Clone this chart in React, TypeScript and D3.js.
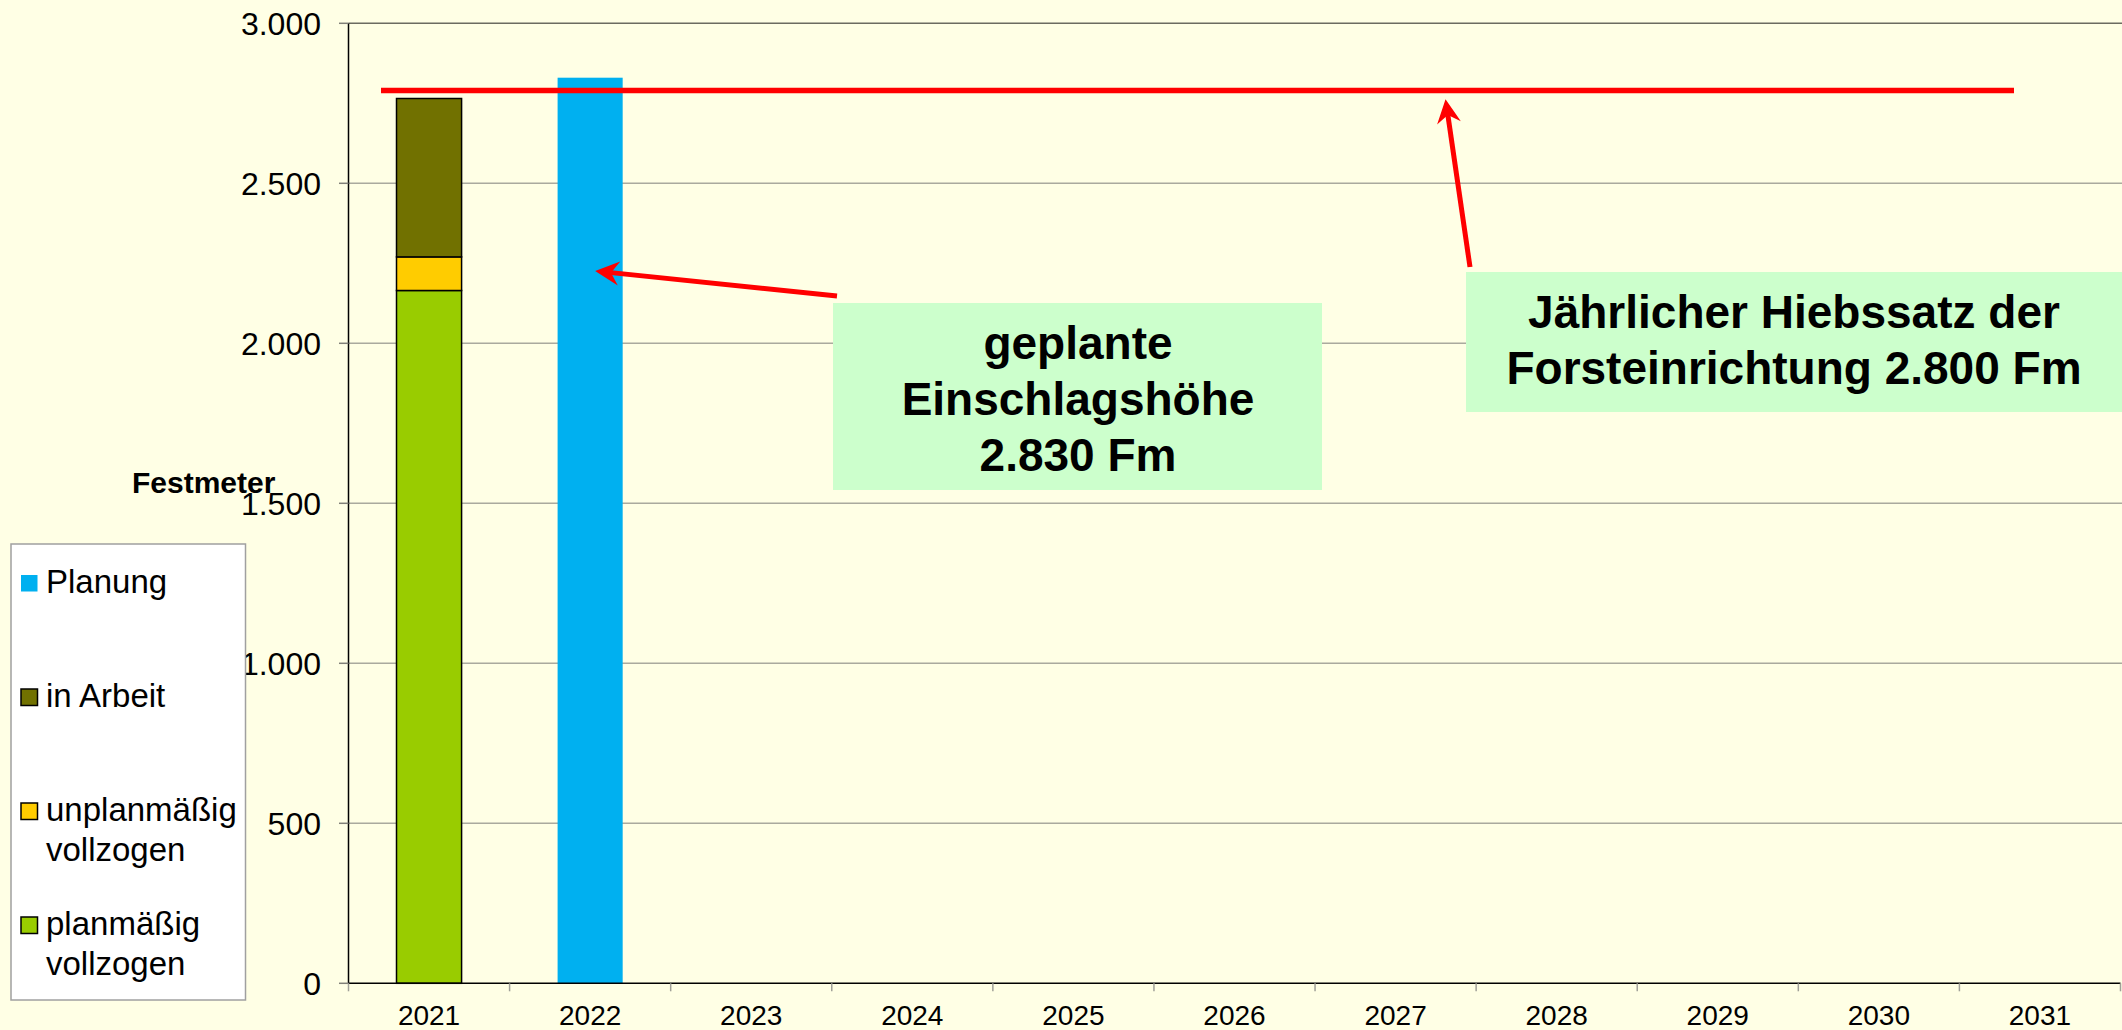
import React from 'react'
import * as d3 from 'd3'

const years = ['2021', '2022', '2023', '2024', '2025', '2026', '2027', '2028', '2029', '2030', '2031']
const planmaessig = [2165, 0, 0, 0, 0, 0, 0, 0, 0, 0, 0]
const unplanmaessig = [105, 0, 0, 0, 0, 0, 0, 0, 0, 0, 0]
const inArbeit = [495, 0, 0, 0, 0, 0, 0, 0, 0, 0, 0]
const planung = [0, 2830, 0, 0, 0, 0, 0, 0, 0, 0, 0]
const hiebssatz = 2790
const yTicks = [0, 500, 1000, 1500, 2000, 2500, 3000]

const seriesKeys = ['planmaessig', 'unplanmaessig', 'inArbeit', 'planung']
const seriesColors: Record<string, string> = {
  planmaessig: '#99CC00',
  unplanmaessig: '#FFCC00',
  inArbeit: '#717100',
  planung: '#00B0F0',
}
const legendItems = [
  { key: 'planung', lines: ['Planung'] },
  { key: 'inArbeit', lines: ['in Arbeit'] },
  { key: 'unplanmaessig', lines: ['unplanmäßig', 'vollzogen'] },
  { key: 'planmaessig', lines: ['planmäßig', 'vollzogen'] },
]

const W = 2122
const H = 1030
const FONT = '"Liberation Sans", Arial, sans-serif'
const de = d3.formatLocale({ decimal: ',', thousands: '.', grouping: [3], currency: ['', ' €'] })
const fmt = de.format(',')

// arrow with a swept-back head, tail -> tip
function arrowPath(x1: number, y1: number, x2: number, y2: number) {
  const dx = x2 - x1
  const dy = y2 - y1
  const len = Math.hypot(dx, dy)
  const ux = dx / len
  const uy = dy / len
  const px = -uy
  const py = ux
  const headLen = 24
  const halfW = 12
  const notch = 8
  const bx = x2 - ux * headLen
  const by = y2 - uy * headLen
  const nx = x2 - ux * (headLen - notch)
  const ny = y2 - uy * (headLen - notch)
  return {
    line: `M${x1},${y1}L${nx},${ny}`,
    head: `M${x2},${y2}L${bx + px * halfW},${by + py * halfW}L${nx},${ny}L${bx - px * halfW},${by - py * halfW}Z`,
  }
}

export default function App() {
  const left = 348.5
  const right = 2120.5
  const top = 23.3
  const bottom = 983.3

  const x = d3.scaleBand<string>().domain(years).range([left, right]).padding(0)
  const y = d3.scaleLinear().domain([0, 3000]).range([bottom, top])
  const barW = x.bandwidth() * 0.404

  const rows = years.map((yr, i) => ({
    year: yr,
    planmaessig: planmaessig[i],
    unplanmaessig: unplanmaessig[i],
    inArbeit: inArbeit[i],
    planung: planung[i],
  }))
  const stacked = d3.stack<any>().keys(seriesKeys)(rows)

  const a1 = arrowPath(837, 296, x('2022')! + x.bandwidth() / 2 + 5, y(2226))
  const a2 = arrowPath(1470, 267, x('2027')! + x.bandwidth() * 0.81, y(2763))

  return (
    <div style={{ position: 'absolute', left: 0, top: 0 }}>
      <svg width={W} height={H} style={{ display: 'block', fontFamily: FONT }}>
        <rect x={0} y={0} width={W} height={H} fill="#FFFFE5" />

        {/* gridlines */}
        {yTicks.filter(t => t > 0).map(t => (
          <line key={t} x1={left} x2={W} y1={y(t)} y2={y(t)}
            stroke={t === 3000 ? '#6B6B60' : '#AAAA9E'} strokeWidth={1.5} />
        ))}

        {/* y axis */}
        <line x1={left} x2={left} y1={top} y2={bottom} stroke="#000" strokeWidth={1.5} />
        {yTicks.map(t => (
          <g key={t}>
            <line x1={339} x2={left} y1={y(t)} y2={y(t)} stroke="#808078" strokeWidth={1.5} />
            <text x={321} y={y(t)} dy="0.36em" textAnchor="end" fontSize={32} fill="#000">{fmt(t)}</text>
          </g>
        ))}

        {/* bars */}
        {stacked.map(s => (
          <g key={s.key}>
            {s.map((d, i) => {
              const h = y(d[0]) - y(d[1])
              if (h <= 0) return null
              const isPlan = s.key === 'planung'
              return (
                <rect key={i}
                  x={x(years[i])! + (x.bandwidth() - barW) / 2}
                  y={y(d[1])}
                  width={barW}
                  height={h}
                  fill={seriesColors[s.key]}
                  stroke={isPlan ? 'none' : '#000'}
                  strokeWidth={isPlan ? 0 : 1.5} />
              )
            })}
          </g>
        ))}

        {/* x axis */}
        <line x1={left} x2={right} y1={bottom} y2={bottom} stroke="#000" strokeWidth={1.5} />
        {[...years.map(yr => x(yr)!), right].map((px, i) => (
          <line key={i} x1={px} x2={px} y1={bottom} y2={bottom + 8} stroke="#A0A098" strokeWidth={1.5} />
        ))}
        {years.map(yr => (
          <text key={yr} x={x(yr)! + x.bandwidth() / 2} y={1025} textAnchor="middle" fontSize={28} fill="#000">{yr}</text>
        ))}

        {/* axis title */}
        <text x={132} y={493} fontSize={30} fontWeight="bold" fill="#000">Festmeter</text>

        {/* Hiebssatz line */}
        <line x1={381} x2={2014} y1={y(hiebssatz)} y2={y(hiebssatz)} stroke="#FF0000" strokeWidth={5.5} />

        {/* annotations */}
        <path d={a1.line} stroke="#FF0000" strokeWidth={5} fill="none" />
        <path d={a1.head} fill="#FF0000" />
        <path d={a2.line} stroke="#FF0000" strokeWidth={5} fill="none" />
        <path d={a2.head} fill="#FF0000" />

        <rect x={833} y={303} width={489} height={187} fill="#CCFFCC" />
        {['geplante', 'Einschlagshöhe', '2.830 Fm'].map((t, i) => (
          <text key={t} x={1078} y={359 + i * 56} textAnchor="middle" fontSize={46} fontWeight="bold" fill="#000">{t}</text>
        ))}

        <rect x={1466} y={272} width={656} height={140} fill="#CCFFCC" />
        {['Jährlicher Hiebssatz der', 'Forsteinrichtung 2.800 Fm'].map((t, i) => (
          <text key={t} x={1794} y={328 + i * 56} textAnchor="middle" fontSize={46} fontWeight="bold" fill="#000">{t}</text>
        ))}

        {/* legend */}
        <rect x={11} y={544} width={234.5} height={456} fill="#FFFFFF" stroke="#A0A0A0" strokeWidth={1.5} />
        {legendItems.map((it, i) => {
          const base = 593 + i * 114
          const bordered = it.key !== 'planung'
          return (
            <g key={it.key}>
              <rect x={21} y={base - 18} width={16.5} height={16.5}
                fill={seriesColors[it.key]}
                stroke={bordered ? '#000' : 'none'} strokeWidth={bordered ? 1.5 : 0} />
              {it.lines.map((ln, j) => (
                <text key={ln} x={46} y={base + j * 40} fontSize={33} fill="#000">{ln}</text>
              ))}
            </g>
          )
        })}
      </svg>
    </div>
  )
}
